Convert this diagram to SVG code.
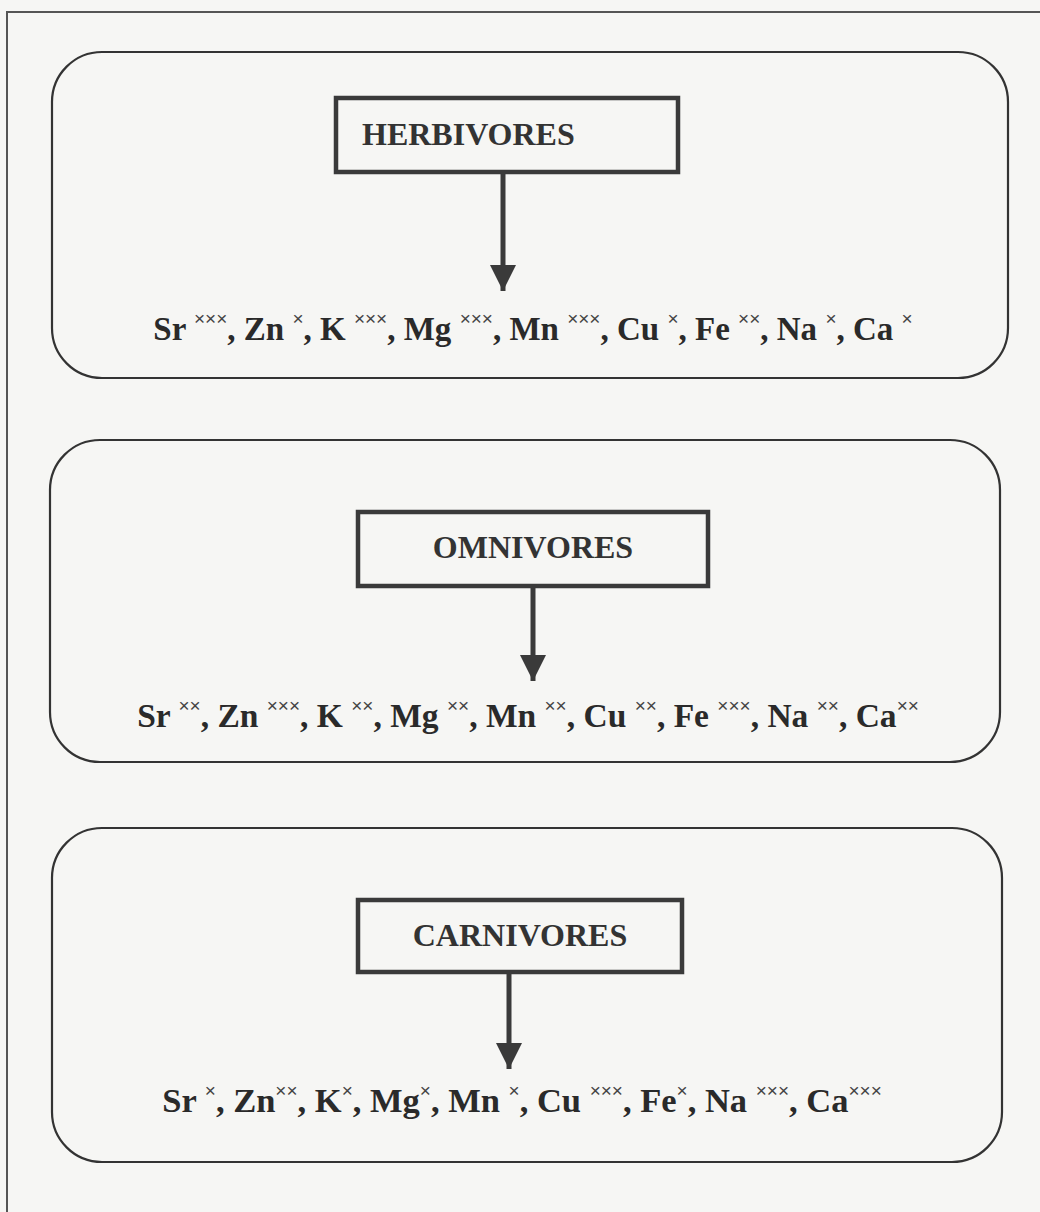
<svg xmlns="http://www.w3.org/2000/svg" width="1040" height="1212" viewBox="0 0 1040 1212">
<style>
.bg{fill:#f6f6f4}
.frame{stroke:#555;stroke-width:2;fill:none}
.panel{fill:none;stroke:#333;stroke-width:2.2}
.box{fill:#f6f6f4;stroke:#3a3a3a;stroke-width:4.5}
.title{font-family:"Liberation Serif",serif;font-weight:bold;font-size:32px;fill:#333}
.line{font-family:"Liberation Serif",serif;font-weight:bold;font-size:33px;fill:#2a2a2a}
.s{font-family:"Liberation Sans",sans-serif;font-weight:normal;font-size:19px;fill:#444}
.conn{stroke:#3a3a3a;stroke-width:5;fill:none}
</style>
<defs>
<marker id="ah" viewBox="0 0 10 10" refX="10" refY="5" markerWidth="5.2" markerHeight="5.2" markerUnits="strokeWidth" orient="auto">
<path d="M0,0 L10,5 L0,10 z" fill="#3a3a3a"/>
</marker>
</defs>
<rect class="bg" x="0" y="0" width="1040" height="1212"/>
<path class="frame" d="M7,1212 V12 H1040"/>

<g id="panel-herbivores">
<rect class="panel" x="52" y="52" width="956" height="326" rx="50" ry="50"/>
</g>
<g id="node-herbivores">
<rect class="box" x="336" y="98" width="342" height="74"/>
<text class="title" x="362" y="145">HERBIVORES</text>
</g>
<g id="node-herb-elements">
<text class="line" x="533" y="340" text-anchor="middle">Sr <tspan class="s" dy="-15">×××</tspan><tspan dy="15">, Zn </tspan><tspan class="s" dy="-15">×</tspan><tspan dy="15">, K </tspan><tspan class="s" dy="-15">×××</tspan><tspan dy="15">, Mg </tspan><tspan class="s" dy="-15">×××</tspan><tspan dy="15">, Mn </tspan><tspan class="s" dy="-15">×××</tspan><tspan dy="15">, Cu </tspan><tspan class="s" dy="-15">×</tspan><tspan dy="15">, Fe </tspan><tspan class="s" dy="-15">××</tspan><tspan dy="15">, Na </tspan><tspan class="s" dy="-15">×</tspan><tspan dy="15">, Ca </tspan><tspan class="s" dy="-15">×</tspan></text>
</g>

<g id="panel-omnivores">
<rect class="panel" x="50" y="440" width="950" height="322" rx="50" ry="50"/>
</g>
<g id="node-omnivores">
<rect class="box" x="358" y="512" width="350" height="74"/>
<text class="title" x="533" y="558" text-anchor="middle">OMNIVORES</text>
</g>
<g id="node-omni-elements">
<text class="line" x="528" y="727" text-anchor="middle" style="font-size:33.5px">Sr <tspan class="s" dy="-15">××</tspan><tspan dy="15">, Zn </tspan><tspan class="s" dy="-15">×××</tspan><tspan dy="15">, K </tspan><tspan class="s" dy="-15">××</tspan><tspan dy="15">, Mg </tspan><tspan class="s" dy="-15">××</tspan><tspan dy="15">, Mn </tspan><tspan class="s" dy="-15">××</tspan><tspan dy="15">, Cu </tspan><tspan class="s" dy="-15">××</tspan><tspan dy="15">, Fe </tspan><tspan class="s" dy="-15">×××</tspan><tspan dy="15">, Na </tspan><tspan class="s" dy="-15">××</tspan><tspan dy="15">, Ca</tspan><tspan class="s" dy="-15">××</tspan></text>
</g>

<g id="panel-carnivores">
<rect class="panel" x="52" y="828" width="950" height="334" rx="50" ry="50"/>
</g>
<g id="node-carnivores">
<rect class="box" x="358" y="900" width="324" height="72"/>
<text class="title" x="520" y="946" text-anchor="middle">CARNIVORES</text>
</g>
<g id="node-carn-elements">
<text class="line" x="522" y="1112" text-anchor="middle" style="font-size:34.5px">Sr <tspan class="s" dy="-15">×</tspan><tspan dy="15">, Zn</tspan><tspan class="s" dy="-15">××</tspan><tspan dy="15">, K</tspan><tspan class="s" dy="-15">×</tspan><tspan dy="15">, Mg</tspan><tspan class="s" dy="-15">×</tspan><tspan dy="15">, Mn </tspan><tspan class="s" dy="-15">×</tspan><tspan dy="15">, Cu </tspan><tspan class="s" dy="-15">×××</tspan><tspan dy="15">, Fe</tspan><tspan class="s" dy="-15">×</tspan><tspan dy="15">, Na </tspan><tspan class="s" dy="-15">×××</tspan><tspan dy="15">, Ca</tspan><tspan class="s" dy="-15">×××</tspan></text>
</g>

<g id="connectors">
<line class="conn" x1="503" y1="174" x2="503" y2="291" marker-end="url(#ah)"/>
<line class="conn" x1="533" y1="588" x2="533" y2="681" marker-end="url(#ah)"/>
<line class="conn" x1="509" y1="974" x2="509" y2="1069" marker-end="url(#ah)"/>
</g>
</svg>
